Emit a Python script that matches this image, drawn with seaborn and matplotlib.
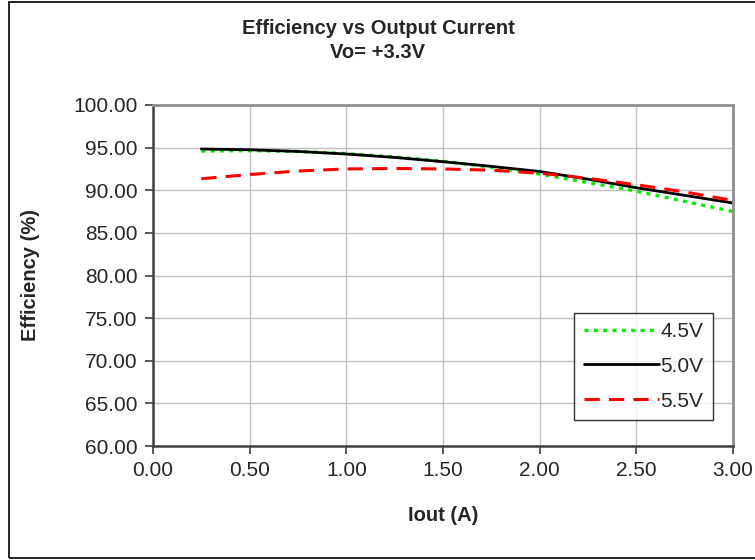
import matplotlib.pyplot as plt
import matplotlib.patches as mpatches
import pandas as pd
import seaborn as sns

# Data
iout = [0.25, 0.50, 0.75, 1.00, 1.25, 1.50, 1.75, 2.00, 2.25, 2.50, 2.75, 3.00]
eff_45 = [94.60, 94.65, 94.55, 94.30, 93.90, 93.40, 92.70, 91.90, 90.90, 89.90, 88.70, 87.50]
eff_50 = [94.84, 94.75, 94.55, 94.25, 93.85, 93.35, 92.80, 92.20, 91.30, 90.30, 89.40, 88.50]
eff_55 = [91.35, 91.85, 92.25, 92.50, 92.55, 92.50, 92.35, 92.00, 91.40, 90.65, 89.80, 88.80]
labels = ["4.5V", "5.0V", "5.5V"]

x_ticks = [0.0, 0.5, 1.0, 1.5, 2.0, 2.5, 3.0]
y_ticks = [60, 65, 70, 75, 80, 85, 90, 95, 100]

df = pd.DataFrame({
    "Iout": iout * 3,
    "Eff": eff_45 + eff_50 + eff_55,
    "Vin": [labels[0]] * len(iout) + [labels[1]] * len(iout) + [labels[2]] * len(iout),
})

sns.set_style("white")
plt.rcParams["font.family"] = ["Liberation Sans", "DejaVu Sans"]

fig = plt.figure(figsize=(7.55, 5.6), dpi=100)
ax = fig.add_axes([153 / 755, 1 - 446 / 560, 580 / 755, 341 / 560])

styles = {
    "4.5V": dict(color="#00ee00", linestyle=(0, (1.2, 1.6)), lw=2.4),
    "5.0V": dict(color="black", linestyle="-", lw=2.0),
    "5.5V": dict(color="#ff0000", linestyle=(0, (5, 3)), lw=2.2),
}
for name in labels:
    sns.lineplot(data=df[df["Vin"] == name], x="Iout", y="Eff", ax=ax,
                 label=name, **styles[name])

ax.set_xlim(0, 3.0)
ax.set_ylim(60, 100)
ax.set_xticks(x_ticks)
ax.set_yticks(y_ticks)
ax.set_xticklabels([f"{v:.2f}" for v in x_ticks], fontsize=15)
ax.set_yticklabels([f"{v:.2f}" for v in y_ticks], fontsize=15)
ax.grid(True, color="#c0c0c0", lw=1.0)
ax.set_axisbelow(True)
ax.tick_params(axis="both", direction="out", length=6, width=1.2,
               color="#404040", bottom=True, left=True, pad=5)

for side in ["left", "bottom"]:
    ax.spines[side].set_color("#404040")
    ax.spines[side].set_linewidth(1.8)
for side in ["top", "right"]:
    ax.spines[side].set_color("#909090")
    ax.spines[side].set_linewidth(2.0)

ax.set_xlabel("Iout (A)", fontsize=14.5, fontweight="bold")
ax.set_ylabel("Efficiency (%)", fontsize=14.5, fontweight="bold")
ax.xaxis.set_label_coords((443 - 153) / 580, -(506 - 446) / 341)
ax.yaxis.set_label_coords(-(153 - 40) / 580, (446 - 275) / 341)

fig.text(378 / 755, 1 - 28 / 560, "Efficiency vs Output Current",
         ha="center", va="center", fontsize=14.5, fontweight="bold")
fig.text(378 / 755, 1 - 53 / 560, "Vo= +3.3V",
         ha="center", va="center", fontsize=14.5, fontweight="bold")

leg = ax.legend(loc="lower right", bbox_to_anchor=((713 - 153) / 580, 26 / 341),
                fontsize=15, frameon=True, fancybox=False, handlelength=3.6,
                handletextpad=0.1, borderpad=0.45, labelspacing=0.76,
                borderaxespad=0)
leg.get_frame().set_edgecolor("black")
leg.get_frame().set_linewidth(1.0)

# outer chart border (cut off on the right like the reference)
fig.patches.append(mpatches.Rectangle((9 / 755, 2 / 560), 1.0, 556 / 560,
                                      transform=fig.transFigure, fill=False,
                                      edgecolor="black", lw=1.2))

fig.savefig("out.png", dpi=100)
